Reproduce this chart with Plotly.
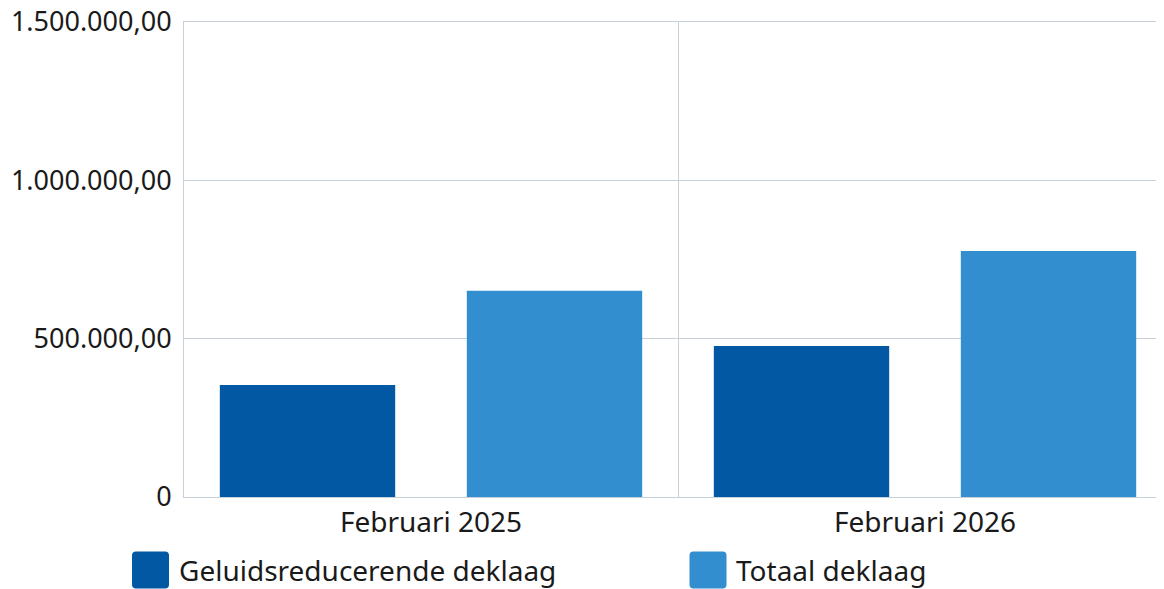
import plotly.graph_objects as go

categories = ["Februari 2025", "Februari 2026"]
series_names = ["Geluidsreducerende deklaag", "Totaal deklaag"]
geluid_values = [354000, 477000]
totaal_values = [651000, 777000]
y_tickvals = [0, 500000, 1000000, 1500000]
y_ticktext = ["0", "500.000,00", "1.000.000,00", "1.500.000,00"]

colors = ["#0358A3", "#328ECE"]
FONT = "Noto Sans"
TXT = "#1a1a1a"
GRID = "#c8d0d9"
FS = 28

W, H = 1164, 589
L, T, B, R = 176, 14, 100, 0

fig = go.Figure()
fig.add_trace(go.Bar(x=categories, y=geluid_values, name=series_names[0],
                     marker=dict(color=colors[0], line=dict(width=0)), showlegend=False))
fig.add_trace(go.Bar(x=categories, y=totaal_values, name=series_names[1],
                     marker=dict(color=colors[1], line=dict(width=0)), showlegend=False))

plot_w = W - L - R
plot_h = H - T - B

fig.update_layout(
    width=W, height=H,
    margin=dict(l=L, r=R, t=T, b=B, pad=0, autoexpand=False),
    paper_bgcolor="white", plot_bgcolor="white",
    barmode="group", bargap=0.0, bargroupgap=0.29,
    font=dict(family=FONT, size=FS, color=TXT),
    xaxis=dict(type="category", range=[-0.5, 1.5], automargin=False,
               tickson="boundaries", showgrid=True, gridcolor=GRID, gridwidth=1,
               showline=True, mirror=True, linecolor=GRID, linewidth=1, ticks="",
               tickfont=dict(family=FONT, size=FS, color=TXT), zeroline=False),
    yaxis=dict(range=[0, 1500000], tickvals=y_tickvals, ticktext=y_ticktext,
               automargin=False,
               showgrid=True, gridcolor=GRID, gridwidth=1,
               showline=True, linecolor=GRID, linewidth=1, ticks="",
               ticklabelstandoff=6, ticklabeloverflow="allow",
               tickfont=dict(family=FONT, size=27, color=TXT), zeroline=False),
)

# custom legend with large rounded swatches (figure pixel coords)
legend_items = [(142.5, 169), (700, 726)]
leg_py = 562
for (cx, tx), name, col in zip(legend_items, series_names, colors):
    xp = (cx - L) / plot_w
    yp = (H - B - leg_py) / plot_h
    r = 18.5
    c = 4
    path = (f"M {-r+c},{-r} L {r-c},{-r} Q {r},{-r} {r},{-r+c} L {r},{r-c} Q {r},{r} {r-c},{r} "
            f"L {-r+c},{r} Q {-r},{r} {-r},{r-c} L {-r},{-r+c} Q {-r},{-r} {-r+c},{-r} Z")
    fig.add_shape(type="path", xref="paper", yref="paper", xsizemode="pixel", ysizemode="pixel",
                  xanchor=xp, yanchor=yp, path=path, fillcolor=col, line=dict(width=0))
    fig.add_annotation(xref="paper", yref="paper", x=(tx - L) / plot_w, y=yp,
                       xanchor="left", yanchor="middle", text=name, showarrow=False,
                       font=dict(family=FONT, size=FS, color=TXT))

fig.write_html("out.html")
